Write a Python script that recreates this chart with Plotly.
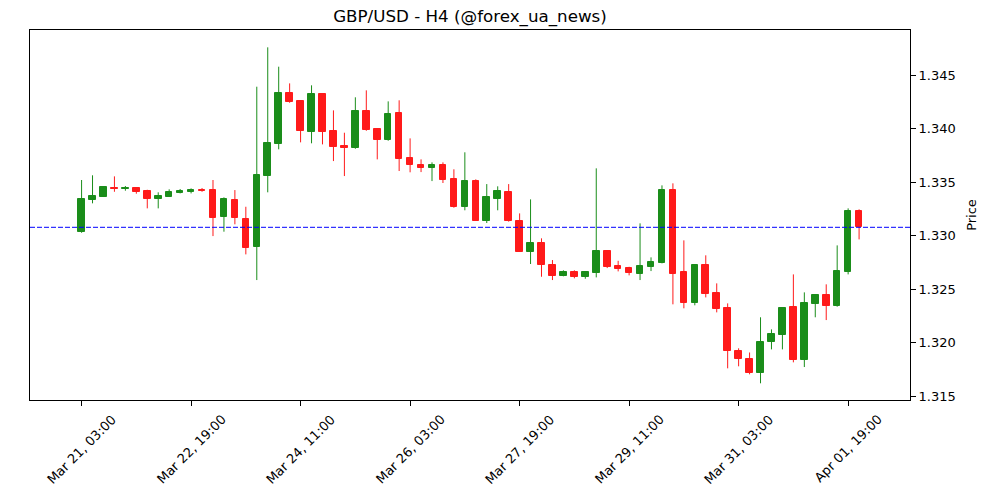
import pandas as pd
import plotly.graph_objects as go

# ---- data ----
start_time = "2025-03-21 03:00"
opens = [1.33036, 1.33335, 1.33363, 1.33444, 1.33432, 1.33444, 1.33419, 1.33344, 1.33363, 1.33400,
         1.33409, 1.33428, 1.33425, 1.33176, 1.33332, 1.33154, 1.32890, 1.33559, 1.33858, 1.34329,
         1.34254, 1.33970, 1.34322, 1.33977, 1.33836, 1.33820, 1.34164, 1.33993, 1.33895, 1.34145,
         1.33721, 1.33656, 1.33634, 1.33656, 1.33525, 1.33269, 1.33509, 1.33138, 1.33341, 1.33404,
         1.33136, 1.32849, 1.32930, 1.32721, 1.32624, 1.32659, 1.32615, 1.32652, 1.32855, 1.32715,
         1.32696, 1.32643, 1.32708, 1.32746, 1.33425, 1.32659, 1.32372, 1.32721, 1.32460, 1.32322,
         1.31918, 1.31843, 1.31712, 1.32002, 1.32073, 1.32332, 1.31839, 1.32363, 1.32441, 1.32344,
         1.32662, 1.33226]
highs = [1.33519, 1.33563, 1.33458, 1.33553, 1.33463, 1.33453, 1.33428, 1.33404, 1.33432, 1.33435,
         1.33441, 1.33444, 1.33519, 1.33357, 1.33425, 1.33269, 1.34391, 1.34759, 1.34578, 1.34422,
         1.34264, 1.34404, 1.34325, 1.34170, 1.33961, 1.34292, 1.34357, 1.34002, 1.34254, 1.34264,
         1.33908, 1.33712, 1.33684, 1.33684, 1.33619, 1.33778, 1.33525, 1.33481, 1.33460, 1.33481,
         1.33207, 1.33338, 1.32974, 1.32771, 1.32675, 1.32675, 1.32668, 1.33628, 1.32864, 1.32764,
         1.32708, 1.33114, 1.32796, 1.33469, 1.33488, 1.32955, 1.32724, 1.32815, 1.32553, 1.32366,
         1.31946, 1.31907, 1.32236, 1.32123, 1.32329, 1.32637, 1.32469, 1.32444, 1.32544, 1.32908,
         1.33254, 1.33245]
lows = [1.33026, 1.33301, 1.33360, 1.33409, 1.33419, 1.33391, 1.33254, 1.33254, 1.33360, 1.33394,
        1.33394, 1.33409, 1.32995, 1.33036, 1.33105, 1.32824, 1.32584, 1.33404, 1.33806, 1.34241,
        1.33871, 1.33862, 1.33852, 1.33696, 1.33556, 1.33811, 1.33979, 1.33712, 1.33886, 1.33603,
        1.33591, 1.33593, 1.33509, 1.33491, 1.33260, 1.33236, 1.33138, 1.33117, 1.33236, 1.33130,
        1.32849, 1.32734, 1.32615, 1.32584, 1.32619, 1.32600, 1.32596, 1.32609, 1.32696, 1.32665,
        1.32628, 1.32584, 1.32668, 1.32740, 1.32357, 1.32320, 1.32348, 1.32422, 1.32282, 1.31759,
        1.31778, 1.31703, 1.31619, 1.31936, 1.31936, 1.31815, 1.31771, 1.32236, 1.32210, 1.32335,
        1.32637, 1.32964]
closes = [1.33341, 1.33366, 1.33453, 1.33432, 1.33447, 1.33409, 1.33344, 1.33369, 1.33407, 1.33419,
          1.33428, 1.33419, 1.33166, 1.33341, 1.33161, 1.32886, 1.33565, 1.33864, 1.34329, 1.34250,
          1.33979, 1.34322, 1.33970, 1.33830, 1.33820, 1.34164, 1.33989, 1.33895, 1.34136, 1.33718,
          1.33662, 1.33634, 1.33656, 1.33521, 1.33269, 1.33507, 1.33138, 1.33357, 1.33413, 1.33133,
          1.32849, 1.32927, 1.32727, 1.32624, 1.32659, 1.32615, 1.32659, 1.32855, 1.32708, 1.32687,
          1.32652, 1.32715, 1.32752, 1.33425, 1.32643, 1.32372, 1.32721, 1.32456, 1.32316, 1.31923,
          1.31843, 1.31718, 1.32002, 1.32077, 1.32322, 1.31839, 1.32366, 1.32441, 1.32344, 1.32668,
          1.33226, 1.33077]
y_ticks = [1.315, 1.320, 1.325, 1.330, 1.335, 1.340, 1.345]
title_text = "GBP/USD - H4 (@forex_ua_news)"

# ---- styling ----
UP = "#1a8d1a"
DOWN = "#ff1a1a"
FONT = "DejaVu Sans"

n = len(closes)
times = pd.date_range(start_time, periods=n, freq="4h")
xs = list(range(n))
tick_idx = list(range(0, n, 10))
tick_text = [times[i].strftime("%b %d, %H:%M") for i in tick_idx]

colors = [UP if c >= o else DOWN for o, c in zip(opens, closes)]

fig = go.Figure()

# wicks
for col in (UP, DOWN):
    wx, wy = [], []
    for i in xs:
        if colors[i] == col:
            wx += [i, i, None]
            wy += [lows[i], highs[i], None]
    fig.add_trace(go.Scatter(x=wx, y=wy, mode="lines",
                             line=dict(color=col, width=1),
                             hoverinfo="skip", showlegend=False))

# bodies
fig.add_trace(go.Bar(
    x=xs,
    y=[abs(c - o) for o, c in zip(opens, closes)],
    base=[min(o, c) for o, c in zip(opens, closes)],
    width=0.6,
    marker=dict(color=colors, line=dict(color=colors, width=1)),
    showlegend=False,
))

fig.add_shape(type="line", xref="paper", x0=0, x1=1, yref="y",
              y0=closes[-1], y1=closes[-1],
              line=dict(color="blue", width=1, dash="5px,2px"))

# rotated x tick labels centred on their ticks (matplotlib style)
for i, txt in zip(tick_idx, tick_text):
    fig.add_annotation(x=i, xref="x", y=0, yref="paper",
                       text=txt, showarrow=False, textangle=-45,
                       xanchor="center", yanchor="top", yshift=-9,
                       font=dict(family=FONT, size=13, color="black"))

fig.update_layout(
    width=1000, height=500,
    margin=dict(l=30, r=90, t=30, b=100),
    paper_bgcolor="white", plot_bgcolor="white",
    font=dict(family=FONT, size=13, color="black"),
    title=dict(text=title_text, x=0.5, xref="paper", xanchor="center",
               y=1 - 16 / 500, yref="container", yanchor="middle",
               font=dict(family=FONT, size=16.7, color="black")),
    bargap=0,
    showlegend=False,
)
fig.update_xaxes(
    range=[-4.71, 75.65],
    tickmode="array", tickvals=tick_idx, ticktext=tick_text,
    showticklabels=False,
    ticks="outside", ticklen=5, tickcolor="black",
    showline=True, linecolor="black", linewidth=1, mirror=True,
    showgrid=False, zeroline=False,
)
fig.update_yaxes(
    side="right",
    range=[1.31463, 1.34921],
    tickmode="array", tickvals=y_ticks, tickformat=".3f",
    ticks="outside", ticklen=5, tickcolor="black",
    showline=True, linecolor="black", linewidth=1, mirror=True,
    showgrid=False, zeroline=False,
    title=dict(text="Price", standoff=12, font=dict(family=FONT, size=13)),
)

fig.write_html("out.html")
